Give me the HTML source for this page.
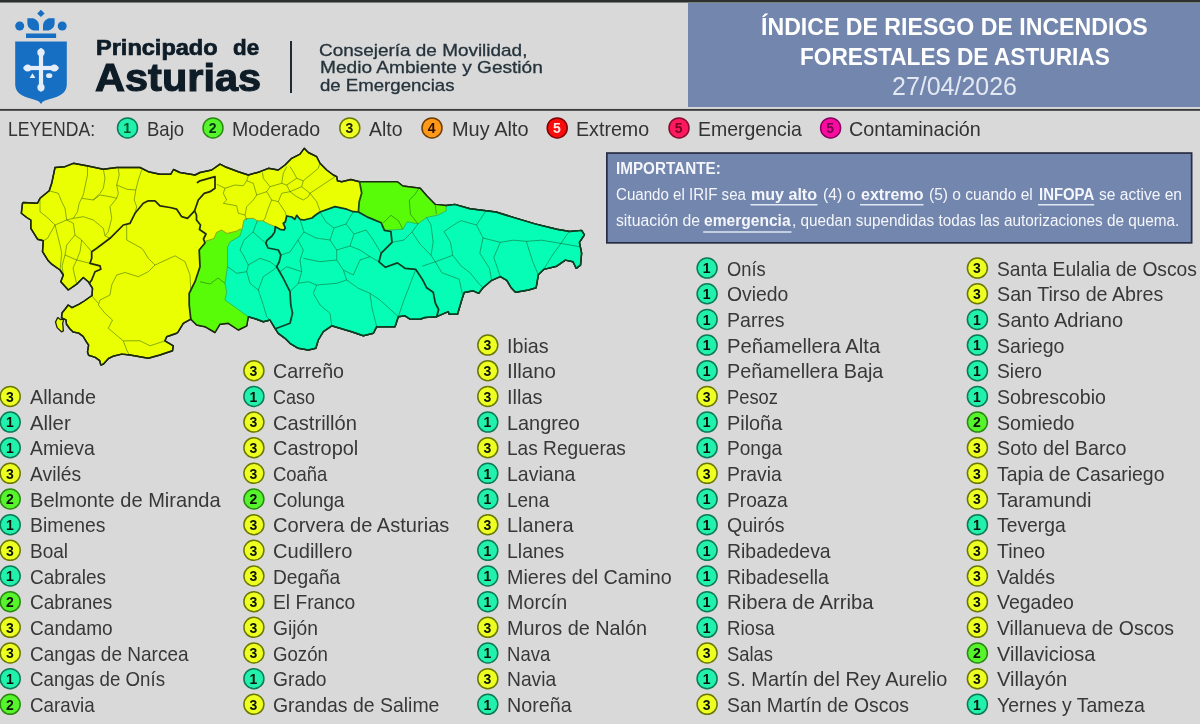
<!DOCTYPE html>
<html lang="es"><head><meta charset="utf-8"><title>IRIF Asturias</title>
<style>
html,body{margin:0;padding:0}
body{width:1200px;height:724px;position:relative;overflow:hidden;background:#d9d9d9;font-family:"Liberation Sans",sans-serif}
.t{position:absolute;white-space:nowrap;line-height:1;transform-origin:0 0}
.bar{position:absolute;left:0;top:0;width:1200px;height:3px;background:linear-gradient(#2c302e 0,#2c302e 2px,#7e807f 2px,#7e807f 3px)}
.hr{position:absolute;left:0;top:108px;width:1200px;height:3px;background:linear-gradient(#cfcfcf 0,#cfcfcf 1px,#3c3c3c 1px,#3c3c3c 2px,#585858 2px,#585858 3px)}
.vr{position:absolute;left:290px;top:41px;width:2.4px;height:51.5px;background:#1d2a33}
.title{position:absolute;left:688px;top:2.5px;width:512px;height:104.3px;background:#7386ae}
</style></head><body><div id="wrap" style="position:absolute;left:0;top:0;width:1200px;height:724px;will-change:transform">
<div class="bar"></div>
<div class="title"></div>
<div class="hr"></div>
<div class="vr"></div>
<svg width="1200" height="260" style="position:absolute;left:0;top:0"><rect x="606.85" y="153.05" width="584.8" height="89.8" fill="#7386ae" stroke="#272d42" stroke-width="1.7"/></svg>
<svg class="map" width="600" height="380" viewBox="0 0 600 380" style="position:absolute;left:0;top:0">
<path d="M22.5 203.3 L23.3 202.5 L37.5 203.3 L40.0 198.3 L49.2 190.8 L51.7 183.3 L55.0 167.5 L65.0 166.7 L73.3 163.3 L86.7 165.8 L103.3 169.2 L116.7 167.5 L140.0 167.5 L148.3 171.7 L160.0 174.2 L170.8 174.2 L173.5 169.5 L180.0 172.5 L195.0 175.0 L200.0 172.5 L211.7 170.0 L220.0 164.2 L225.0 166.7 L231.7 169.2 L238.3 171.7 L248.3 175.0 L260.0 171.7 L268.3 168.3 L278.3 170.0 L285.0 165.0 L291.7 158.3 L300.0 154.2 L304.2 148.3 L308.3 152.5 L316.7 156.7 L320.0 163.3 L326.7 170.0 L333.3 175.0 L336.7 176.7 L337.5 180.8 L341.7 181.7 L350.8 179.5 L359.5 181.7 L372.5 181.7 L397.4 181.7 L402.8 186.0 L420.2 188.2 L426.7 195.8 L435.3 204.4 L446.2 205.5 L454.8 204.4 L470.0 208.8 L496.0 212.0 L513.3 217.4 L535.0 223.9 L556.7 229.3 L569.7 231.5 L581.6 230.4 L584.4 234.8 L579.4 242.3 L581.6 253.2 L580.5 265.1 L576.2 268.3 L573.0 261.8 L565.3 260.1 L556.7 266.2 L543.7 269.4 L538.3 274.8 L536.1 287.8 L528.5 290.0 L515.5 292.2 L511.2 287.8 L506.8 280.3 L500.3 276.6 L491.7 280.3 L483.0 287.8 L478.7 293.3 L473.3 290.8 L464.2 292.5 L461.7 300.0 L457.5 314.2 L449.2 314.2 L448.3 311.7 L436.7 316.7 L425.0 317.5 L420.0 319.2 L410.0 319.2 L405.0 315.8 L398.3 316.7 L395.0 326.7 L376.7 326.7 L373.3 333.3 L363.3 335.8 L351.7 331.7 L343.3 329.2 L331.7 325.8 L323.3 331.7 L318.3 340.0 L315.8 348.3 L308.3 350.0 L298.3 348.3 L290.0 343.3 L285.0 338.3 L278.3 333.3 L275.0 328.3 L270.0 320.0 L263.3 321.7 L256.7 319.2 L248.3 316.7 L246.7 325.8 L238.3 330.0 L228.3 323.3 L220.0 324.2 L215.0 332.5 L205.0 326.7 L196.7 325.0 L190.8 319.2 L183.3 323.3 L178.3 331.7 L176.7 333.3 L166.7 336.7 L165.0 340.8 L173.3 345.8 L172.5 350.8 L160.0 355.0 L148.3 358.3 L130.0 355.0 L121.8 354.1 L112.9 356.3 L108.5 358.5 L103.5 364.0 L100.8 365.1 L99.7 360.7 L95.2 357.4 L88.6 355.2 L87.5 351.9 L88.6 345.2 L86.4 341.9 L83.1 336.4 L78.7 333.1 L73.1 332.0 L69.8 328.7 L66.5 324.3 L66.0 319.8 L63.2 318.7 L61.5 317.6 L62.1 312.7 L65.4 308.8 L68.2 305.0 L72.0 307.7 L78.7 304.4 L84.2 301.0 L92.0 295.5 L92.5 288.3 L88.3 281.7 L83.3 277.5 L76.7 284.2 L68.3 290.0 L60.8 281.7 L63.3 275.0 L60.0 270.0 L51.7 264.2 L48.3 260.8 L42.5 251.7 L43.3 240.8 L37.5 239.2 L30.8 228.3 L30.8 220.0 L26.7 217.5 L21.3 213.3 Z" fill="#e9ff02" stroke="#20260a" stroke-width="1.45" stroke-linejoin="round"/>
<path d="M57.7 317.6 L55.5 322.0 L57.1 327.6 L61.5 331.8 L63.4 330.9 L62.7 323.1 L63.8 319.0 L60.4 319.6 Z" fill="#e9ff02" stroke="#20260a" stroke-width="1.3" stroke-linejoin="round"/>
<path d="M242.0 229.5 L244.0 220.0 L246.7 218.5 L253.3 218.3 L257.3 220.7 L263.3 221.0 L268.7 224.0 L275.3 226.7 L280.0 229.3 L284.0 230.0 L285.3 228.0 L283.3 223.3 L285.3 222.0 L286.7 216.0 L292.0 217.0 L294.7 219.3 L296.7 215.3 L300.0 219.3 L304.0 220.0 L312.0 218.0 L315.3 215.3 L320.0 212.0 L335.0 206.7 L346.7 209.2 L353.3 211.7 L358.4 212.0 L368.2 217.4 L381.2 222.8 L384.4 230.4 L402.8 229.3 L407.2 221.8 L418.0 223.9 L426.7 217.4 L437.5 215.3 L446.2 210.9 L446.2 205.5 L454.8 204.4 L470.0 208.8 L496.0 212.0 L513.3 217.4 L535.0 223.9 L556.7 229.3 L569.7 231.5 L581.6 230.4 L584.4 234.8 L579.4 242.3 L581.6 253.2 L580.5 265.1 L576.2 268.3 L573.0 261.8 L565.3 260.1 L556.7 266.2 L543.7 269.4 L538.3 274.8 L536.1 287.8 L528.5 290.0 L515.5 292.2 L511.2 287.8 L506.8 280.3 L500.3 276.6 L491.7 280.3 L483.0 287.8 L478.7 293.3 L473.3 290.8 L464.2 292.5 L461.7 300.0 L457.5 314.2 L449.2 314.2 L448.3 311.7 L436.7 316.7 L425.0 317.5 L420.0 319.2 L410.0 319.2 L405.0 315.8 L398.3 316.7 L395.0 326.7 L376.7 326.7 L373.3 333.3 L363.3 335.8 L351.7 331.7 L343.3 329.2 L331.7 325.8 L323.3 331.7 L318.3 340.0 L315.8 348.3 L308.3 350.0 L298.3 348.3 L290.0 343.3 L285.0 338.3 L278.3 333.3 L275.0 328.3 L270.0 320.0 L263.3 321.7 L256.7 319.2 L248.3 316.7 L236.7 308.3 L225.0 300.0 L226.7 291.7 L225.0 283.3 L227.5 266.7 L227.5 247.0 L230.0 242.0 L240.0 236.0 L242.0 229.5 Z" fill="#05fdb6"/>
<path d="M204.5 241.5 L214.0 238.5 L216.5 232.5 L221.5 230.0 L227.0 233.5 L237.0 231.0 L240.0 229.0 L242.0 229.5 L240.0 236.0 L230.0 242.0 L227.5 247.0 L227.5 266.7 L225.0 283.3 L226.7 291.7 L225.0 300.0 L236.7 308.3 L248.3 316.7 L246.7 325.8 L238.3 330.0 L228.3 323.3 L220.0 324.2 L215.0 332.5 L205.0 326.7 L196.7 325.0 L190.8 319.2 L189.2 305.0 L189.2 293.3 L195.0 281.7 L200.0 266.7 L199.2 250.0 L205.0 243.0 Z" fill="#58fb08"/>
<path d="M359.5 181.7 L372.5 181.7 L397.4 181.7 L402.8 186.0 L420.2 188.2 L426.7 195.8 L435.3 204.4 L446.2 205.5 L446.2 210.9 L437.5 215.3 L426.7 217.4 L418.0 223.9 L407.2 221.8 L402.8 229.3 L384.4 230.4 L381.2 222.8 L368.2 217.4 L358.4 212.0 L359.2 201.7 L361.7 193.0 Z" fill="#58fb08"/>
<path d="M248.3 316.7 L236.7 308.3 L225.0 300.0 L226.7 291.7 L225.0 283.3 L227.5 266.7 L227.5 247.0 L230.0 242.0 L240.0 236.0 L242.0 229.5" fill="none" stroke="#1fb868" stroke-width="0.9"/>
<path d="M358.4 212.0 L368.2 217.4 L381.2 222.8 L384.4 230.4 L402.8 229.3 L407.2 221.8 L418.0 223.9 L426.7 217.4 L437.5 215.3 L446.2 210.9 L446.2 205.5" fill="none" stroke="#1fb868" stroke-width="0.9"/>
<path d="M242.0 229.5 L244.0 220.0 L246.7 218.5 L253.3 218.3 L257.3 220.7 L263.3 221.0 L268.7 224.0 L275.3 226.7" fill="none" stroke="#8aa818" stroke-width="1"/>
<path d="M204.5 241.5 L214.0 238.5 L216.5 232.5 L221.5 230.0 L227.0 233.5 L237.0 231.0 L240.0 229.0 L242.0 229.5" fill="none" stroke="#8aa818" stroke-width="1"/>
<path d="M87.5 166.0 L87.5 175.0 L85.0 186.7 L83.3 195.0 L81.7 198.3 L79.2 203.3 L77.5 211.7 L73.3 218.3 L66.7 220.0 M103.3 169.0 L105.0 178.3 L103.3 188.3 L100.0 193.3 L93.3 200.0 L81.7 198.3 M118.3 168.3 L119.2 175.0 L116.7 185.0 L118.3 193.3 L116.7 198.3 L110.0 206.7 L111.7 218.3 L108.3 231.7 L105.0 235.8 L110.0 238.3 M141.7 170.0 L138.3 180.0 L135.8 190.0 L134.2 200.0 L136.7 206.7 L135.0 213.3 M116.7 185.0 L126.7 189.2 L135.8 190.0 M93.3 200.0 L100.0 195.0 L110.0 196.7 L116.7 198.3 M49.2 190.8 L58.3 193.3 L61.7 201.7 L65.0 208.3 L66.7 220.0 M66.7 220.0 L55.0 225.0 L47.5 238.3 L43.3 240.8 M66.7 220.0 L73.3 223.3 L75.0 235.0 L81.7 240.0 L91.7 251.7 M40.0 198.3 L40.0 211.7 L48.3 218.3 L55.0 225.0 M73.3 218.3 L83.3 216.7 L93.3 220.0 L103.3 228.3 L105.0 235.8 M55.0 225.0 L60.0 245.0 L61.7 253.3 L60.0 270.0 M75.0 235.0 L66.7 245.0 L65.0 255.0 L62.0 266.0 L63.3 275.0 M81.7 240.0 L80.0 251.7 L76.7 260.0 L73.0 268.0 L76.7 284.2 M65.0 255.0 L76.7 260.0 L90.0 263.3 M143.3 250.0 L148.3 258.3 L155.0 265.0 L175.0 255.8 L185.0 261.7 L190.0 275.0 L190.8 291.7 M155.0 265.0 L148.3 271.7 L138.3 276.7 L125.0 272.5 L116.7 275.0 L111.7 285.0 L110.0 295.0 L100.0 300.0 L98.3 305.0 L105.0 313.3 L112.5 320.0 L108.3 328.3 L118.3 336.7 L123.3 340.8 L126.7 350.0 L129.2 355.0 M91.7 295.8 L98.3 303.3 M123.3 340.8 L140.0 340.8 L150.0 345.8 L160.0 342.5 L165.0 340.8 M126.7 225.0 L126.7 240.0 L141.7 248.3 L143.3 250.0 M216.7 184.2 L225.0 188.3 L223.3 193.3 L226.7 200.0 L223.3 203.3 L236.7 205.8 L238.3 213.3 L245.0 215.0 L246.7 220.0 M225.0 188.3 L235.0 185.0 L243.3 185.8 L246.7 180.8 L248.3 175.8 M246.7 180.8 L253.3 183.3 L256.7 195.0 L266.7 191.7 L270.0 186.7 L263.3 178.3 L262.5 172.5 M256.7 195.0 L253.3 200.0 L246.7 206.7 L245.0 215.0 M266.7 191.7 L271.7 200.0 L268.3 208.3 L265.0 218.3 L263.3 220.8 M271.7 200.0 L278.3 201.7 L285.0 211.7 L286.7 216.7 M278.3 201.7 L281.7 193.3 L290.0 191.7 L286.7 185.0 L281.7 183.3 L283.3 173.3 L286.7 166.7 M270.0 186.7 L281.7 183.3 M286.7 185.0 L296.7 178.3 L293.3 171.7 L290.0 166.7 M296.7 178.3 L303.3 180.8 L318.3 168.3 L320.0 163.3 M303.3 180.8 L301.7 186.7 L310.0 193.3 L330.0 180.0 L335.0 176.7 M290.0 191.7 L301.7 186.7 M310.0 193.3 L316.7 201.7 L320.0 210.8 M290.0 191.7 L296.7 196.7 L303.3 200.0 L308.3 196.7 L310.0 193.3 M227.5 266.7 L236.7 273.3 L246.7 271.7 L248.3 265.0 L243.3 255.0 L240.0 250.0 L244.0 240.0 L253.0 232.0 L257.3 220.7 M246.7 271.7 L250.0 283.3 L258.3 290.0 L263.3 305.0 L266.7 316.7 L270.0 320.0 M258.3 290.0 L263.3 276.7 L273.3 270.0 L276.7 266.7 M248.3 265.0 L260.0 258.3 L270.0 261.7 L276.7 266.7 M253.0 232.0 L262.0 240.0 L266.0 243.3 M290.0 291.7 L298.3 283.3 L308.3 281.7 L316.7 285.0 L336.7 283.3 L346.7 280.0 L358.3 288.3 L370.0 293.3 L380.0 300.0 L398.3 316.7 M316.7 285.0 L313.3 293.3 L320.0 305.0 L330.0 313.3 L331.7 325.8 M298.3 283.3 L301.7 271.7 L300.0 260.0 L303.3 250.0 L298.0 240.0 L304.0 232.0 L300.0 219.3 M301.7 271.7 L286.7 266.7 L280.0 271.7 M346.7 280.0 L343.3 270.0 L336.7 260.0 L336.7 250.0 L330.0 240.0 L334.0 228.0 L326.0 222.0 L320.0 212.0 M343.3 270.0 L353.3 275.0 L360.0 260.0 L370.0 256.7 L379.0 261.8 M303.3 258.3 L320.0 261.7 L336.7 260.0 M304.0 232.0 L316.0 238.0 L330.0 240.0 M336.7 250.0 L350.0 246.0 L360.0 250.0 L370.0 256.7 M350.0 246.0 L354.0 234.0 L366.0 230.0 L372.0 238.0 L381.2 253.2 M334.0 228.0 L346.0 224.0 L353.3 211.7 M354.0 234.0 L346.0 224.0 M280.8 255.0 L290.0 252.0 L298.0 240.0 M370.0 293.3 L372.0 308.0 L376.7 326.7 M398.3 316.7 L404.0 300.0 L415.8 269.4 M426.7 217.4 L431.0 225.0 L433.2 242.3 L431.0 255.3 L435.3 261.8 L422.3 266.2 M435.3 261.8 L452.7 255.3 L461.3 266.2 L470.0 272.7 L478.7 283.5 L483.0 287.8 M452.7 255.3 L450.5 242.3 L444.0 231.5 L457.0 222.8 L461.3 220.7 L476.5 225.0 L485.2 212.0 M476.5 225.0 L483.0 238.0 L500.3 242.3 L513.3 240.2 L526.3 241.3 L541.5 240.2 L561.0 243.4 L567.5 233.7 L569.7 231.5 M483.0 238.0 L479.8 253.2 L489.5 268.3 L491.7 280.3 M500.3 242.3 L493.8 257.5 L500.3 276.6 M526.3 241.3 L532.8 261.8 L538.3 274.8 M561.0 243.4 L552.3 255.3 L543.7 269.4 M561.0 243.4 L579.4 246.7 M435.3 261.8 L441.8 272.7 L459.2 279.2 L462.4 294.3 M392.0 242.3 L404.0 240.0 L412.0 232.0 L418.0 223.9 M412.0 232.0 L420.0 244.0 L431.0 255.3 M419.0 188.2 L414.8 194.7 L409.3 200.0 L410.4 214.2 L418.0 223.9 M435.3 204.4 L436.4 214.2 M383.3 222.8 L390.9 215.3 L398.5 220.7 L402.8 229.3 M200.0 281.7 L210.0 284.0 L218.0 278.0 L225.0 283.3" fill="none" stroke="rgba(20,70,20,0.5)" stroke-width="0.9" stroke-linejoin="round"/>
<path d="M22.5 203.3 L23.3 202.5 L37.5 203.3 L40.0 198.3 L49.2 190.8 L51.7 183.3 L55.0 167.5 L65.0 166.7 L73.3 163.3 L86.7 165.8 L103.3 169.2 L116.7 167.5 L140.0 167.5 L148.3 171.7 L160.0 174.2 L170.8 174.2 L173.5 169.5 L180.0 172.5 L195.0 175.0 L200.0 172.5 L211.7 170.0 L220.0 164.2 L225.0 166.7 L231.7 169.2 L238.3 171.7 L248.3 175.0 L260.0 171.7 L268.3 168.3 L278.3 170.0 L285.0 165.0 L291.7 158.3 L300.0 154.2 L304.2 148.3 L308.3 152.5 L316.7 156.7 L320.0 163.3 L326.7 170.0 L333.3 175.0 L336.7 176.7 L337.5 180.8 L341.7 181.7 L350.8 179.5 L359.5 181.7 L372.5 181.7 L397.4 181.7 L402.8 186.0 L420.2 188.2 L426.7 195.8 L435.3 204.4 L446.2 205.5 L454.8 204.4 L470.0 208.8 L496.0 212.0 L513.3 217.4 L535.0 223.9 L556.7 229.3 L569.7 231.5 L581.6 230.4 L584.4 234.8 L579.4 242.3 L581.6 253.2 L580.5 265.1 L576.2 268.3 L573.0 261.8 L565.3 260.1 L556.7 266.2 L543.7 269.4 L538.3 274.8 L536.1 287.8 L528.5 290.0 L515.5 292.2 L511.2 287.8 L506.8 280.3 L500.3 276.6 L491.7 280.3 L483.0 287.8 L478.7 293.3 L473.3 290.8 L464.2 292.5 L461.7 300.0 L457.5 314.2 L449.2 314.2 L448.3 311.7 L436.7 316.7 L425.0 317.5 L420.0 319.2 L410.0 319.2 L405.0 315.8 L398.3 316.7 L395.0 326.7 L376.7 326.7 L373.3 333.3 L363.3 335.8 L351.7 331.7 L343.3 329.2 L331.7 325.8 L323.3 331.7 L318.3 340.0 L315.8 348.3 L308.3 350.0 L298.3 348.3 L290.0 343.3 L285.0 338.3 L278.3 333.3 L275.0 328.3 L270.0 320.0 L263.3 321.7 L256.7 319.2 L248.3 316.7 L246.7 325.8 L238.3 330.0 L228.3 323.3 L220.0 324.2 L215.0 332.5 L205.0 326.7 L196.7 325.0 L190.8 319.2 L183.3 323.3 L178.3 331.7 L176.7 333.3 L166.7 336.7 L165.0 340.8 L173.3 345.8 L172.5 350.8 L160.0 355.0 L148.3 358.3 L130.0 355.0 L121.8 354.1 L112.9 356.3 L108.5 358.5 L103.5 364.0 L100.8 365.1 L99.7 360.7 L95.2 357.4 L88.6 355.2 L87.5 351.9 L88.6 345.2 L86.4 341.9 L83.1 336.4 L78.7 333.1 L73.1 332.0 L69.8 328.7 L66.5 324.3 L66.0 319.8 L63.2 318.7 L61.5 317.6 L62.1 312.7 L65.4 308.8 L68.2 305.0 L72.0 307.7 L78.7 304.4 L84.2 301.0 L92.0 295.5 L92.5 288.3 L88.3 281.7 L83.3 277.5 L76.7 284.2 L68.3 290.0 L60.8 281.7 L63.3 275.0 L60.0 270.0 L51.7 264.2 L48.3 260.8 L42.5 251.7 L43.3 240.8 L37.5 239.2 L30.8 228.3 L30.8 220.0 L26.7 217.5 L21.3 213.3 Z" fill="none" stroke="#1c2a10" stroke-width="1.45" stroke-linejoin="round"/>
<path d="M446.2 205.5 L454.8 204.4 L470.0 208.8 L496.0 212.0 L513.3 217.4 L535.0 223.9 L556.7 229.3 L569.7 231.5 L581.6 230.4 L584.4 234.8 L579.4 242.3 L581.6 253.2 L580.5 265.1 L576.2 268.3 L573.0 261.8 L565.3 260.1 L556.7 266.2 L543.7 269.4 L538.3 274.8 L536.1 287.8 L528.5 290.0 L515.5 292.2 L511.2 287.8 L506.8 280.3 L500.3 276.6 L491.7 280.3 L483.0 287.8 L478.7 293.3 L473.3 290.8 L464.2 292.5 L461.7 300.0 L457.5 314.2 L449.2 314.2 L448.3 311.7 L436.7 316.7 L425.0 317.5 L420.0 319.2 L410.0 319.2 L405.0 315.8 L398.3 316.7 L395.0 326.7 L376.7 326.7 L373.3 333.3 L363.3 335.8 L351.7 331.7 L343.3 329.2 L331.7 325.8 L323.3 331.7 L318.3 340.0 L315.8 348.3 L308.3 350.0 L298.3 348.3 L290.0 343.3 L285.0 338.3 L278.3 333.3 L275.0 328.3 L270.0 320.0 L263.3 321.7 L256.7 319.2 L248.3 316.7" fill="none" stroke="#0d4228" stroke-width="1.45" stroke-linejoin="round"/>
<path d="M89.5 283.0 L91.7 280.0 L95.0 271.7 L100.8 269.2 L100.0 265.8 L90.0 263.3 L91.7 258.3 L91.7 251.7 L96.7 248.3 L110.0 238.3 L123.3 225.0 L130.0 223.3 L135.0 213.3 L143.3 203.3 L148.3 200.8 L155.0 200.8 L160.0 205.8 L170.0 207.5 L176.7 209.2 L181.7 216.7 L187.5 218.3 L194.6 210.8 L198.3 200.0 L204.2 193.3 L210.0 191.7 L215.0 188.3 L215.0 176.7 L200.0 180.8 L197.5 182.5" fill="none" stroke="#22280c" stroke-width="1.75" stroke-linejoin="round" stroke-linecap="round"/>
<path d="M194.6 210.8 L196.5 215.0 L196.5 220.0 L200.5 225.0 L199.5 229.5 L206.0 234.0 L203.5 239.0 L205.0 243.0 L199.2 250.0 L200.0 266.7 L195.0 281.7 L189.2 293.3 L189.2 305.0 L190.8 319.2" fill="none" stroke="#1c3010" stroke-width="1.75" stroke-linejoin="round" stroke-linecap="round"/>
<path d="M266.0 243.3 L266.7 240.7 L272.0 236.0 L274.7 232.0 L275.3 226.7 L280.0 229.3 L284.0 230.0 L285.3 228.0 L283.3 223.3 L285.3 222.0 L286.7 216.0 L292.0 217.0 L294.7 219.3 L296.7 215.3 L300.0 219.3 L304.0 220.0 L312.0 218.0 L315.3 215.3 L320.0 212.0 L335.0 206.7 L346.7 209.2 L353.3 211.7 L358.4 212.0 L368.2 217.4 L381.2 222.8 L384.4 230.4 L390.9 231.5 L392.0 242.3 L381.2 253.2 L379.0 261.8 L385.5 267.3 L397.4 262.9 L405.0 268.3 L415.8 269.4 L422.3 279.2 L426.7 287.8 L433.2 292.2 L435.3 303.0 L438.6 309.5 L436.7 316.7" fill="none" stroke="#0e3a20" stroke-width="1.75" stroke-linejoin="round" stroke-linecap="round"/>
<path d="M266.0 243.3 L268.0 248.0 L278.3 250.0 L280.8 255.0 L279.2 262.0 L276.7 266.7 L283.3 278.3 L290.0 291.7 L290.8 305.0 L292.5 313.3 L290.0 323.3 L276.7 328.3" fill="none" stroke="#0d4228" stroke-width="1.75" stroke-linejoin="round" stroke-linecap="round"/>
<path d="M359.5 181.7 L361.7 193.0 L359.2 201.7 L358.4 212.0" fill="none" stroke="#1a4a14" stroke-width="1.75" stroke-linejoin="round" stroke-linecap="round"/>
</svg>
<svg width="90" height="110" viewBox="0 0 90 110" style="position:absolute;left:0;top:0">
<g fill="#166fc2">
<path d="M15.2 41.5 H66.8 V84 C66.8 91 62.5 94.5 57 96.8 C52 98.8 47 99.6 44.5 100.8 C43 101.600 41.8 102.600 41 103.900 C40.200 102.600 39 101.600 37.5 100.800 C35 99.600 30 98.800 25 96.800 C19.500 94.500 15.200 91 15.200 84 Z"/>
<rect x="26" y="33.5" width="30.1" height="4.5"/>
<circle cx="19.7" cy="26" r="4.500"/>
<circle cx="62.2" cy="26" r="4.500"/>
<path d="M27.4 18.3 H33 C37 19.500 39 22.500 39 26 V30.4 H33.500 C29.500 29.500 27.400 26.500 27.400 23 Z"/>
<path d="M54.6 18.3 H49 C45 19.500 43 22.500 43 26 V30.4 H48.500 C52.500 29.500 54.600 26.500 54.600 23 Z"/>
<path d="M40.9 9.700 L44.6 13.4 L40.900 17.100 L37.200 13.400 Z"/>
</g>
<g fill="#e4edf8">
<rect x="38.900" y="50" width="4.200" height="40"/>
<rect x="25" y="65.900" width="32" height="4.200"/>
<circle cx="41" cy="52.400" r="3.700"/><circle cx="41" cy="87.400" r="3.600"/>
<circle cx="27.700" cy="68" r="3.600"/><circle cx="54.300" cy="68" r="3.600"/>
<circle cx="41" cy="49.600" r="1.700"/><circle cx="41" cy="90" r="1.700"/>
<circle cx="24.900" cy="68" r="1.700"/><circle cx="57.100" cy="68" r="1.700"/>
<path d="M29.600 78.100 L32.500 73.200 L35.400 78.100 Z"/>
<ellipse cx="49.200" cy="75.700" rx="3.100" ry="2.400"/>
</g></svg>
<svg width="1200" height="724" style="position:absolute;left:0;top:0">
<circle cx="127.50" cy="127.90" r="10" fill="#21f1ad" stroke="#0b7a55" stroke-width="1.5"/>
<circle cx="213.00" cy="127.90" r="10" fill="#56f42c" stroke="#2a8a10" stroke-width="1.5"/>
<circle cx="349.80" cy="127.90" r="10" fill="#eeff22" stroke="#6a7800" stroke-width="1.5"/>
<circle cx="432.00" cy="127.90" r="10" fill="#ff9918" stroke="#6e3c00" stroke-width="1.5"/>
<circle cx="557.20" cy="127.90" r="10" fill="#fa0c0c" stroke="#7e0000" stroke-width="1.5"/>
<circle cx="679.00" cy="127.90" r="10" fill="#fc1a5c" stroke="#860a30" stroke-width="1.5"/>
<circle cx="830.60" cy="127.90" r="10" fill="#fb0ca0" stroke="#86005e" stroke-width="1.5"/>
<line x1="750.5" y1="204.8" x2="817.5" y2="204.8" stroke="#dfe6f4" stroke-width="1.6"/>
<line x1="860.0" y1="204.8" x2="923.5" y2="204.8" stroke="#dfe6f4" stroke-width="1.6"/>
<line x1="1038.0" y1="204.8" x2="1094.2" y2="204.8" stroke="#dfe6f4" stroke-width="1.6"/>
<line x1="703.2" y1="232.0" x2="791.5" y2="232.0" stroke="#dfe6f4" stroke-width="1.6"/>
<circle cx="10.20" cy="396.38" r="10" fill="#eeff22" stroke="#6a7800" stroke-width="1.5"/>
<circle cx="10.20" cy="422.04" r="10" fill="#21f1ad" stroke="#0b7a55" stroke-width="1.5"/>
<circle cx="10.20" cy="447.70" r="10" fill="#21f1ad" stroke="#0b7a55" stroke-width="1.5"/>
<circle cx="10.20" cy="473.36" r="10" fill="#eeff22" stroke="#6a7800" stroke-width="1.5"/>
<circle cx="10.20" cy="499.02" r="10" fill="#56f42c" stroke="#2a8a10" stroke-width="1.5"/>
<circle cx="10.20" cy="524.68" r="10" fill="#21f1ad" stroke="#0b7a55" stroke-width="1.5"/>
<circle cx="10.20" cy="550.34" r="10" fill="#eeff22" stroke="#6a7800" stroke-width="1.5"/>
<circle cx="10.20" cy="576.00" r="10" fill="#21f1ad" stroke="#0b7a55" stroke-width="1.5"/>
<circle cx="10.20" cy="601.66" r="10" fill="#56f42c" stroke="#2a8a10" stroke-width="1.5"/>
<circle cx="10.20" cy="627.32" r="10" fill="#eeff22" stroke="#6a7800" stroke-width="1.5"/>
<circle cx="10.20" cy="652.98" r="10" fill="#eeff22" stroke="#6a7800" stroke-width="1.5"/>
<circle cx="10.20" cy="678.64" r="10" fill="#21f1ad" stroke="#0b7a55" stroke-width="1.5"/>
<circle cx="10.20" cy="704.30" r="10" fill="#56f42c" stroke="#2a8a10" stroke-width="1.5"/>
<circle cx="253.90" cy="370.72" r="10" fill="#eeff22" stroke="#6a7800" stroke-width="1.5"/>
<circle cx="253.90" cy="396.38" r="10" fill="#21f1ad" stroke="#0b7a55" stroke-width="1.5"/>
<circle cx="253.90" cy="422.04" r="10" fill="#eeff22" stroke="#6a7800" stroke-width="1.5"/>
<circle cx="253.90" cy="447.70" r="10" fill="#eeff22" stroke="#6a7800" stroke-width="1.5"/>
<circle cx="253.90" cy="473.36" r="10" fill="#eeff22" stroke="#6a7800" stroke-width="1.5"/>
<circle cx="253.90" cy="499.02" r="10" fill="#56f42c" stroke="#2a8a10" stroke-width="1.5"/>
<circle cx="253.90" cy="524.68" r="10" fill="#eeff22" stroke="#6a7800" stroke-width="1.5"/>
<circle cx="253.90" cy="550.34" r="10" fill="#eeff22" stroke="#6a7800" stroke-width="1.5"/>
<circle cx="253.90" cy="576.00" r="10" fill="#eeff22" stroke="#6a7800" stroke-width="1.5"/>
<circle cx="253.90" cy="601.66" r="10" fill="#eeff22" stroke="#6a7800" stroke-width="1.5"/>
<circle cx="253.90" cy="627.32" r="10" fill="#eeff22" stroke="#6a7800" stroke-width="1.5"/>
<circle cx="253.90" cy="652.98" r="10" fill="#eeff22" stroke="#6a7800" stroke-width="1.5"/>
<circle cx="253.90" cy="678.64" r="10" fill="#21f1ad" stroke="#0b7a55" stroke-width="1.5"/>
<circle cx="253.90" cy="704.30" r="10" fill="#eeff22" stroke="#6a7800" stroke-width="1.5"/>
<circle cx="487.80" cy="345.06" r="10" fill="#eeff22" stroke="#6a7800" stroke-width="1.5"/>
<circle cx="487.80" cy="370.72" r="10" fill="#eeff22" stroke="#6a7800" stroke-width="1.5"/>
<circle cx="487.80" cy="396.38" r="10" fill="#eeff22" stroke="#6a7800" stroke-width="1.5"/>
<circle cx="487.80" cy="422.04" r="10" fill="#21f1ad" stroke="#0b7a55" stroke-width="1.5"/>
<circle cx="487.80" cy="447.70" r="10" fill="#eeff22" stroke="#6a7800" stroke-width="1.5"/>
<circle cx="487.80" cy="473.36" r="10" fill="#21f1ad" stroke="#0b7a55" stroke-width="1.5"/>
<circle cx="487.80" cy="499.02" r="10" fill="#21f1ad" stroke="#0b7a55" stroke-width="1.5"/>
<circle cx="487.80" cy="524.68" r="10" fill="#eeff22" stroke="#6a7800" stroke-width="1.5"/>
<circle cx="487.80" cy="550.34" r="10" fill="#21f1ad" stroke="#0b7a55" stroke-width="1.5"/>
<circle cx="487.80" cy="576.00" r="10" fill="#21f1ad" stroke="#0b7a55" stroke-width="1.5"/>
<circle cx="487.80" cy="601.66" r="10" fill="#21f1ad" stroke="#0b7a55" stroke-width="1.5"/>
<circle cx="487.80" cy="627.32" r="10" fill="#eeff22" stroke="#6a7800" stroke-width="1.5"/>
<circle cx="487.80" cy="652.98" r="10" fill="#21f1ad" stroke="#0b7a55" stroke-width="1.5"/>
<circle cx="487.80" cy="678.64" r="10" fill="#eeff22" stroke="#6a7800" stroke-width="1.5"/>
<circle cx="487.80" cy="704.30" r="10" fill="#21f1ad" stroke="#0b7a55" stroke-width="1.5"/>
<circle cx="707.10" cy="268.08" r="10" fill="#21f1ad" stroke="#0b7a55" stroke-width="1.5"/>
<circle cx="707.10" cy="293.74" r="10" fill="#21f1ad" stroke="#0b7a55" stroke-width="1.5"/>
<circle cx="707.10" cy="319.40" r="10" fill="#21f1ad" stroke="#0b7a55" stroke-width="1.5"/>
<circle cx="707.10" cy="345.06" r="10" fill="#21f1ad" stroke="#0b7a55" stroke-width="1.5"/>
<circle cx="707.10" cy="370.72" r="10" fill="#21f1ad" stroke="#0b7a55" stroke-width="1.5"/>
<circle cx="707.10" cy="396.38" r="10" fill="#eeff22" stroke="#6a7800" stroke-width="1.5"/>
<circle cx="707.10" cy="422.04" r="10" fill="#21f1ad" stroke="#0b7a55" stroke-width="1.5"/>
<circle cx="707.10" cy="447.70" r="10" fill="#21f1ad" stroke="#0b7a55" stroke-width="1.5"/>
<circle cx="707.10" cy="473.36" r="10" fill="#eeff22" stroke="#6a7800" stroke-width="1.5"/>
<circle cx="707.10" cy="499.02" r="10" fill="#21f1ad" stroke="#0b7a55" stroke-width="1.5"/>
<circle cx="707.10" cy="524.68" r="10" fill="#21f1ad" stroke="#0b7a55" stroke-width="1.5"/>
<circle cx="707.10" cy="550.34" r="10" fill="#21f1ad" stroke="#0b7a55" stroke-width="1.5"/>
<circle cx="707.10" cy="576.00" r="10" fill="#21f1ad" stroke="#0b7a55" stroke-width="1.5"/>
<circle cx="707.10" cy="601.66" r="10" fill="#21f1ad" stroke="#0b7a55" stroke-width="1.5"/>
<circle cx="707.10" cy="627.32" r="10" fill="#21f1ad" stroke="#0b7a55" stroke-width="1.5"/>
<circle cx="707.10" cy="652.98" r="10" fill="#eeff22" stroke="#6a7800" stroke-width="1.5"/>
<circle cx="707.10" cy="678.64" r="10" fill="#21f1ad" stroke="#0b7a55" stroke-width="1.5"/>
<circle cx="707.10" cy="704.30" r="10" fill="#eeff22" stroke="#6a7800" stroke-width="1.5"/>
<circle cx="977.40" cy="268.08" r="10" fill="#eeff22" stroke="#6a7800" stroke-width="1.5"/>
<circle cx="977.40" cy="293.74" r="10" fill="#eeff22" stroke="#6a7800" stroke-width="1.5"/>
<circle cx="977.40" cy="319.40" r="10" fill="#21f1ad" stroke="#0b7a55" stroke-width="1.5"/>
<circle cx="977.40" cy="345.06" r="10" fill="#21f1ad" stroke="#0b7a55" stroke-width="1.5"/>
<circle cx="977.40" cy="370.72" r="10" fill="#21f1ad" stroke="#0b7a55" stroke-width="1.5"/>
<circle cx="977.40" cy="396.38" r="10" fill="#21f1ad" stroke="#0b7a55" stroke-width="1.5"/>
<circle cx="977.40" cy="422.04" r="10" fill="#56f42c" stroke="#2a8a10" stroke-width="1.5"/>
<circle cx="977.40" cy="447.70" r="10" fill="#eeff22" stroke="#6a7800" stroke-width="1.5"/>
<circle cx="977.40" cy="473.36" r="10" fill="#eeff22" stroke="#6a7800" stroke-width="1.5"/>
<circle cx="977.40" cy="499.02" r="10" fill="#eeff22" stroke="#6a7800" stroke-width="1.5"/>
<circle cx="977.40" cy="524.68" r="10" fill="#21f1ad" stroke="#0b7a55" stroke-width="1.5"/>
<circle cx="977.40" cy="550.34" r="10" fill="#eeff22" stroke="#6a7800" stroke-width="1.5"/>
<circle cx="977.40" cy="576.00" r="10" fill="#eeff22" stroke="#6a7800" stroke-width="1.5"/>
<circle cx="977.40" cy="601.66" r="10" fill="#eeff22" stroke="#6a7800" stroke-width="1.5"/>
<circle cx="977.40" cy="627.32" r="10" fill="#eeff22" stroke="#6a7800" stroke-width="1.5"/>
<circle cx="977.40" cy="652.98" r="10" fill="#56f42c" stroke="#2a8a10" stroke-width="1.5"/>
<circle cx="977.40" cy="678.64" r="10" fill="#eeff22" stroke="#6a7800" stroke-width="1.5"/>
<circle cx="977.40" cy="704.30" r="10" fill="#21f1ad" stroke="#0b7a55" stroke-width="1.5"/>
</svg>
<div class="t" style="left:96.30px;top:37.00px;font-size:21.80px;font-weight:700;color:#0e1c27;transform:scaleX(1.0798);-webkit-text-stroke:0.7px #0e1c27">Principado</div>
<div class="t" style="left:233.00px;top:37.00px;font-size:21.80px;font-weight:700;color:#0e1c27;transform:scaleX(1.0237);-webkit-text-stroke:0.7px #0e1c27">de</div>
<div class="t" style="left:94.80px;top:58.00px;font-size:39.60px;font-weight:700;color:#0e1c27;transform:scaleX(1.0492);-webkit-text-stroke:1.1px #0e1c27">Asturias</div>
<div class="t" style="left:319.00px;top:42.00px;font-size:16.40px;color:#26333c;transform:scaleX(1.1552);-webkit-text-stroke:0.3px #26333c">Consejería de Movilidad,</div>
<div class="t" style="left:319.50px;top:59.00px;font-size:16.40px;color:#26333c;transform:scaleX(1.1647);-webkit-text-stroke:0.3px #26333c">Medio Ambiente y Gestión</div>
<div class="t" style="left:319.50px;top:77.00px;font-size:16.40px;color:#26333c;transform:scaleX(1.1351);-webkit-text-stroke:0.3px #26333c">de Emergencias</div>
<div class="t" style="left:761.00px;top:16.00px;font-size:23.20px;font-weight:700;color:#fff;transform:scaleX(0.9974);">ÍNDICE DE RIESGO DE INCENDIOS</div>
<div class="t" style="left:800.00px;top:46.00px;font-size:23.20px;font-weight:700;color:#fff;transform:scaleX(0.9775);">FORESTALES DE ASTURIAS</div>
<div class="t" style="left:892.00px;top:74.00px;font-size:25.00px;color:#e3e8f3;transform:scaleX(0.9990);">27/04/2026</div>
<div class="t" style="left:8.00px;top:118.00px;font-size:21.00px;color:#333;transform:scaleX(0.8378);">LEYENDA:</div>
<div class="t" style="left:123.21px;top:121.00px;font-size:14.00px;font-weight:700;color:#052;transform:scaleX(1.0000);">1</div>
<div class="t" style="left:147.00px;top:118.00px;font-size:21.00px;color:#333;transform:scaleX(0.8810);">Bajo</div>
<div class="t" style="left:208.72px;top:121.00px;font-size:14.00px;font-weight:700;color:#031;transform:scaleX(1.0000);">2</div>
<div class="t" style="left:231.70px;top:118.00px;font-size:21.00px;color:#333;transform:scaleX(0.9334);">Moderado</div>
<div class="t" style="left:345.52px;top:121.00px;font-size:14.00px;font-weight:700;color:#220;transform:scaleX(1.0000);">3</div>
<div class="t" style="left:369.00px;top:118.00px;font-size:21.00px;color:#333;transform:scaleX(0.9248);">Alto</div>
<div class="t" style="left:427.72px;top:121.00px;font-size:14.00px;font-weight:700;color:#2a1000;transform:scaleX(1.0000);">4</div>
<div class="t" style="left:451.50px;top:118.00px;font-size:21.00px;color:#333;transform:scaleX(0.9499);">Muy Alto</div>
<div class="t" style="left:552.92px;top:121.00px;font-size:14.00px;font-weight:700;color:#ffe9e9;transform:scaleX(1.0000);">5</div>
<div class="t" style="left:575.80px;top:118.00px;font-size:21.00px;color:#333;transform:scaleX(0.9358);">Extremo</div>
<div class="t" style="left:674.72px;top:121.00px;font-size:14.00px;font-weight:700;color:#7a0024;transform:scaleX(1.0000);">5</div>
<div class="t" style="left:697.70px;top:118.00px;font-size:21.00px;color:#333;transform:scaleX(0.9274);">Emergencia</div>
<div class="t" style="left:826.32px;top:121.00px;font-size:14.00px;font-weight:700;color:#74004c;transform:scaleX(1.0000);">5</div>
<div class="t" style="left:849.00px;top:118.00px;font-size:21.00px;color:#333;transform:scaleX(0.9410);">Contaminación</div>
<div class="t" style="left:616.00px;top:161.00px;font-size:15.60px;font-weight:700;color:#f4f6fb;transform:scaleX(0.9774);">IMPORTANTE:</div>
<div class="t" style="left:616.00px;top:187.00px;font-size:16.00px;color:#f4f6fb;transform:scaleX(0.9426);">Cuando el IRIF sea</div>
<div class="t" style="left:751.00px;top:187.00px;font-size:16.00px;font-weight:700;color:#f4f6fb;transform:scaleX(1.0036);">muy alto</div>
<div class="t" style="left:822.50px;top:187.00px;font-size:16.00px;color:#f4f6fb;transform:scaleX(0.9884);">(4) o</div>
<div class="t" style="left:860.50px;top:187.00px;font-size:16.00px;font-weight:700;color:#f4f6fb;transform:scaleX(1.0042);">extremo</div>
<div class="t" style="left:928.75px;top:187.00px;font-size:16.00px;color:#f4f6fb;transform:scaleX(0.9722);">(5) o cuando el</div>
<div class="t" style="left:1038.50px;top:187.00px;font-size:16.00px;font-weight:700;color:#f4f6fb;transform:scaleX(0.9320);">INFOPA</div>
<div class="t" style="left:1098.75px;top:187.00px;font-size:16.00px;color:#f4f6fb;transform:scaleX(0.9724);">se active en</div>
<div class="t" style="left:616.00px;top:213.00px;font-size:16.00px;color:#f4f6fb;transform:scaleX(0.9841);">situación de</div>
<div class="t" style="left:703.75px;top:213.00px;font-size:16.00px;font-weight:700;color:#f4f6fb;transform:scaleX(0.9734);">emergencia</div>
<div class="t" style="left:791.50px;top:213.00px;font-size:16.00px;color:#f4f6fb;transform:scaleX(0.9568);">, quedan supendidas todas las autorizaciones de quema.</div>
<div class="t" style="left:29.70px;top:386.00px;font-size:21.00px;color:#383838;transform:scaleX(0.9438);">Allande</div>
<div class="t" style="left:5.91px;top:390.00px;font-size:14.00px;font-weight:700;color:#0c1408;transform:scaleX(1.0000);">3</div>
<div class="t" style="left:29.70px;top:412.00px;font-size:21.00px;color:#383838;transform:scaleX(0.9690);">Aller</div>
<div class="t" style="left:5.91px;top:415.00px;font-size:14.00px;font-weight:700;color:#0c1408;transform:scaleX(1.0000);">1</div>
<div class="t" style="left:29.70px;top:437.00px;font-size:21.00px;color:#383838;transform:scaleX(0.9239);">Amieva</div>
<div class="t" style="left:5.91px;top:441.00px;font-size:14.00px;font-weight:700;color:#0c1408;transform:scaleX(1.0000);">1</div>
<div class="t" style="left:29.70px;top:463.00px;font-size:21.00px;color:#383838;transform:scaleX(0.9182);">Avilés</div>
<div class="t" style="left:5.91px;top:467.00px;font-size:14.00px;font-weight:700;color:#0c1408;transform:scaleX(1.0000);">3</div>
<div class="t" style="left:29.70px;top:489.00px;font-size:21.00px;color:#383838;transform:scaleX(0.9549);">Belmonte de Miranda</div>
<div class="t" style="left:5.91px;top:492.00px;font-size:14.00px;font-weight:700;color:#0c1408;transform:scaleX(1.0000);">2</div>
<div class="t" style="left:29.70px;top:514.00px;font-size:21.00px;color:#383838;transform:scaleX(0.9242);">Bimenes</div>
<div class="t" style="left:5.91px;top:518.00px;font-size:14.00px;font-weight:700;color:#0c1408;transform:scaleX(1.0000);">1</div>
<div class="t" style="left:29.70px;top:540.00px;font-size:21.00px;color:#383838;transform:scaleX(0.9048);">Boal</div>
<div class="t" style="left:5.91px;top:544.00px;font-size:14.00px;font-weight:700;color:#0c1408;transform:scaleX(1.0000);">3</div>
<div class="t" style="left:29.70px;top:566.00px;font-size:21.00px;color:#383838;transform:scaleX(0.9048);">Cabrales</div>
<div class="t" style="left:5.91px;top:569.00px;font-size:14.00px;font-weight:700;color:#0c1408;transform:scaleX(1.0000);">1</div>
<div class="t" style="left:29.70px;top:591.00px;font-size:21.00px;color:#383838;transform:scaleX(0.9040);">Cabranes</div>
<div class="t" style="left:5.91px;top:595.00px;font-size:14.00px;font-weight:700;color:#0c1408;transform:scaleX(1.0000);">2</div>
<div class="t" style="left:29.70px;top:617.00px;font-size:21.00px;color:#383838;transform:scaleX(0.9084);">Candamo</div>
<div class="t" style="left:5.91px;top:621.00px;font-size:14.00px;font-weight:700;color:#0c1408;transform:scaleX(1.0000);">3</div>
<div class="t" style="left:29.70px;top:643.00px;font-size:21.00px;color:#383838;transform:scaleX(0.9056);">Cangas de Narcea</div>
<div class="t" style="left:5.91px;top:646.00px;font-size:14.00px;font-weight:700;color:#0c1408;transform:scaleX(1.0000);">3</div>
<div class="t" style="left:29.70px;top:668.00px;font-size:21.00px;color:#383838;transform:scaleX(0.8898);">Cangas de Onís</div>
<div class="t" style="left:5.91px;top:672.00px;font-size:14.00px;font-weight:700;color:#0c1408;transform:scaleX(1.0000);">1</div>
<div class="t" style="left:29.70px;top:694.00px;font-size:21.00px;color:#383838;transform:scaleX(0.8944);">Caravia</div>
<div class="t" style="left:5.91px;top:698.00px;font-size:14.00px;font-weight:700;color:#0c1408;transform:scaleX(1.0000);">2</div>
<div class="t" style="left:273.40px;top:360.00px;font-size:21.00px;color:#383838;transform:scaleX(0.9366);">Carreño</div>
<div class="t" style="left:249.61px;top:364.00px;font-size:14.00px;font-weight:700;color:#0c1408;transform:scaleX(1.0000);">3</div>
<div class="t" style="left:273.40px;top:386.00px;font-size:21.00px;color:#383838;transform:scaleX(0.8565);">Caso</div>
<div class="t" style="left:249.61px;top:390.00px;font-size:14.00px;font-weight:700;color:#0c1408;transform:scaleX(1.0000);">1</div>
<div class="t" style="left:273.40px;top:412.00px;font-size:21.00px;color:#383838;transform:scaleX(0.9592);">Castrillón</div>
<div class="t" style="left:249.61px;top:415.00px;font-size:14.00px;font-weight:700;color:#0c1408;transform:scaleX(1.0000);">3</div>
<div class="t" style="left:273.40px;top:437.00px;font-size:21.00px;color:#383838;transform:scaleX(0.9490);">Castropol</div>
<div class="t" style="left:249.61px;top:441.00px;font-size:14.00px;font-weight:700;color:#0c1408;transform:scaleX(1.0000);">3</div>
<div class="t" style="left:273.40px;top:463.00px;font-size:21.00px;color:#383838;transform:scaleX(0.8781);">Coaña</div>
<div class="t" style="left:249.61px;top:467.00px;font-size:14.00px;font-weight:700;color:#0c1408;transform:scaleX(1.0000);">3</div>
<div class="t" style="left:273.40px;top:489.00px;font-size:21.00px;color:#383838;transform:scaleX(0.9141);">Colunga</div>
<div class="t" style="left:249.61px;top:492.00px;font-size:14.00px;font-weight:700;color:#0c1408;transform:scaleX(1.0000);">2</div>
<div class="t" style="left:273.40px;top:514.00px;font-size:21.00px;color:#383838;transform:scaleX(0.9562);">Corvera de Asturias</div>
<div class="t" style="left:249.61px;top:518.00px;font-size:14.00px;font-weight:700;color:#0c1408;transform:scaleX(1.0000);">3</div>
<div class="t" style="left:273.40px;top:540.00px;font-size:21.00px;color:#383838;transform:scaleX(0.9572);">Cudillero</div>
<div class="t" style="left:249.61px;top:544.00px;font-size:14.00px;font-weight:700;color:#0c1408;transform:scaleX(1.0000);">3</div>
<div class="t" style="left:273.40px;top:566.00px;font-size:21.00px;color:#383838;transform:scaleX(0.9143);">Degaña</div>
<div class="t" style="left:249.61px;top:569.00px;font-size:14.00px;font-weight:700;color:#0c1408;transform:scaleX(1.0000);">3</div>
<div class="t" style="left:273.40px;top:591.00px;font-size:21.00px;color:#383838;transform:scaleX(0.9157);">El Franco</div>
<div class="t" style="left:249.61px;top:595.00px;font-size:14.00px;font-weight:700;color:#0c1408;transform:scaleX(1.0000);">3</div>
<div class="t" style="left:273.40px;top:617.00px;font-size:21.00px;color:#383838;transform:scaleX(0.9177);">Gijón</div>
<div class="t" style="left:249.61px;top:621.00px;font-size:14.00px;font-weight:700;color:#0c1408;transform:scaleX(1.0000);">3</div>
<div class="t" style="left:273.40px;top:643.00px;font-size:21.00px;color:#383838;transform:scaleX(0.8877);">Gozón</div>
<div class="t" style="left:249.61px;top:646.00px;font-size:14.00px;font-weight:700;color:#0c1408;transform:scaleX(1.0000);">3</div>
<div class="t" style="left:273.40px;top:668.00px;font-size:21.00px;color:#383838;transform:scaleX(0.9181);">Grado</div>
<div class="t" style="left:249.61px;top:672.00px;font-size:14.00px;font-weight:700;color:#0c1408;transform:scaleX(1.0000);">1</div>
<div class="t" style="left:273.40px;top:694.00px;font-size:21.00px;color:#383838;transform:scaleX(0.9257);">Grandas de Salime</div>
<div class="t" style="left:249.61px;top:698.00px;font-size:14.00px;font-weight:700;color:#0c1408;transform:scaleX(1.0000);">3</div>
<div class="t" style="left:507.30px;top:335.00px;font-size:21.00px;color:#383838;transform:scaleX(0.9388);">Ibias</div>
<div class="t" style="left:483.52px;top:338.00px;font-size:14.00px;font-weight:700;color:#0c1408;transform:scaleX(1.0000);">3</div>
<div class="t" style="left:507.30px;top:360.00px;font-size:21.00px;color:#383838;transform:scaleX(0.9763);">Illano</div>
<div class="t" style="left:483.52px;top:364.00px;font-size:14.00px;font-weight:700;color:#0c1408;transform:scaleX(1.0000);">3</div>
<div class="t" style="left:507.30px;top:386.00px;font-size:21.00px;color:#383838;transform:scaleX(0.9524);">Illas</div>
<div class="t" style="left:483.52px;top:390.00px;font-size:14.00px;font-weight:700;color:#0c1408;transform:scaleX(1.0000);">3</div>
<div class="t" style="left:507.30px;top:412.00px;font-size:21.00px;color:#383838;transform:scaleX(0.9459);">Langreo</div>
<div class="t" style="left:483.52px;top:415.00px;font-size:14.00px;font-weight:700;color:#0c1408;transform:scaleX(1.0000);">1</div>
<div class="t" style="left:507.30px;top:437.00px;font-size:21.00px;color:#383838;transform:scaleX(0.9095);">Las Regueras</div>
<div class="t" style="left:483.52px;top:441.00px;font-size:14.00px;font-weight:700;color:#0c1408;transform:scaleX(1.0000);">3</div>
<div class="t" style="left:507.30px;top:463.00px;font-size:21.00px;color:#383838;transform:scaleX(0.9293);">Laviana</div>
<div class="t" style="left:483.52px;top:467.00px;font-size:14.00px;font-weight:700;color:#0c1408;transform:scaleX(1.0000);">1</div>
<div class="t" style="left:507.30px;top:489.00px;font-size:21.00px;color:#383838;transform:scaleX(0.9033);">Lena</div>
<div class="t" style="left:483.52px;top:492.00px;font-size:14.00px;font-weight:700;color:#0c1408;transform:scaleX(1.0000);">1</div>
<div class="t" style="left:507.30px;top:514.00px;font-size:21.00px;color:#383838;transform:scaleX(0.9510);">Llanera</div>
<div class="t" style="left:483.52px;top:518.00px;font-size:14.00px;font-weight:700;color:#0c1408;transform:scaleX(1.0000);">3</div>
<div class="t" style="left:507.30px;top:540.00px;font-size:21.00px;color:#383838;transform:scaleX(0.9265);">Llanes</div>
<div class="t" style="left:483.52px;top:544.00px;font-size:14.00px;font-weight:700;color:#0c1408;transform:scaleX(1.0000);">1</div>
<div class="t" style="left:507.30px;top:566.00px;font-size:21.00px;color:#383838;transform:scaleX(0.9404);">Mieres del Camino</div>
<div class="t" style="left:483.52px;top:569.00px;font-size:14.00px;font-weight:700;color:#0c1408;transform:scaleX(1.0000);">1</div>
<div class="t" style="left:507.30px;top:591.00px;font-size:21.00px;color:#383838;transform:scaleX(0.9384);">Morcín</div>
<div class="t" style="left:483.52px;top:595.00px;font-size:14.00px;font-weight:700;color:#0c1408;transform:scaleX(1.0000);">1</div>
<div class="t" style="left:507.30px;top:617.00px;font-size:21.00px;color:#383838;transform:scaleX(0.9450);">Muros de Nalón</div>
<div class="t" style="left:483.52px;top:621.00px;font-size:14.00px;font-weight:700;color:#0c1408;transform:scaleX(1.0000);">3</div>
<div class="t" style="left:507.30px;top:643.00px;font-size:21.00px;color:#383838;transform:scaleX(0.8832);">Nava</div>
<div class="t" style="left:483.52px;top:646.00px;font-size:14.00px;font-weight:700;color:#0c1408;transform:scaleX(1.0000);">1</div>
<div class="t" style="left:507.30px;top:668.00px;font-size:21.00px;color:#383838;transform:scaleX(0.9170);">Navia</div>
<div class="t" style="left:483.52px;top:672.00px;font-size:14.00px;font-weight:700;color:#0c1408;transform:scaleX(1.0000);">3</div>
<div class="t" style="left:507.30px;top:694.00px;font-size:21.00px;color:#383838;transform:scaleX(0.9379);">Noreña</div>
<div class="t" style="left:483.52px;top:698.00px;font-size:14.00px;font-weight:700;color:#0c1408;transform:scaleX(1.0000);">1</div>
<div class="t" style="left:726.60px;top:258.00px;font-size:21.00px;color:#383838;transform:scaleX(0.8734);">Onís</div>
<div class="t" style="left:702.82px;top:261.00px;font-size:14.00px;font-weight:700;color:#0c1408;transform:scaleX(1.0000);">1</div>
<div class="t" style="left:726.60px;top:283.00px;font-size:21.00px;color:#383838;transform:scaleX(0.9223);">Oviedo</div>
<div class="t" style="left:702.82px;top:287.00px;font-size:14.00px;font-weight:700;color:#0c1408;transform:scaleX(1.0000);">1</div>
<div class="t" style="left:726.60px;top:309.00px;font-size:21.00px;color:#383838;transform:scaleX(0.9297);">Parres</div>
<div class="t" style="left:702.82px;top:313.00px;font-size:14.00px;font-weight:700;color:#0c1408;transform:scaleX(1.0000);">1</div>
<div class="t" style="left:726.60px;top:335.00px;font-size:21.00px;color:#383838;transform:scaleX(0.9650);">Peñamellera Alta</div>
<div class="t" style="left:702.82px;top:338.00px;font-size:14.00px;font-weight:700;color:#0c1408;transform:scaleX(1.0000);">1</div>
<div class="t" style="left:726.60px;top:360.00px;font-size:21.00px;color:#383838;transform:scaleX(0.9433);">Peñamellera Baja</div>
<div class="t" style="left:702.82px;top:364.00px;font-size:14.00px;font-weight:700;color:#0c1408;transform:scaleX(1.0000);">1</div>
<div class="t" style="left:726.60px;top:386.00px;font-size:21.00px;color:#383838;transform:scaleX(0.8736);">Pesoz</div>
<div class="t" style="left:702.82px;top:390.00px;font-size:14.00px;font-weight:700;color:#0c1408;transform:scaleX(1.0000);">3</div>
<div class="t" style="left:726.60px;top:412.00px;font-size:21.00px;color:#383838;transform:scaleX(0.9455);">Piloña</div>
<div class="t" style="left:702.82px;top:415.00px;font-size:14.00px;font-weight:700;color:#0c1408;transform:scaleX(1.0000);">1</div>
<div class="t" style="left:726.60px;top:437.00px;font-size:21.00px;color:#383838;transform:scaleX(0.9096);">Ponga</div>
<div class="t" style="left:702.82px;top:441.00px;font-size:14.00px;font-weight:700;color:#0c1408;transform:scaleX(1.0000);">1</div>
<div class="t" style="left:726.60px;top:463.00px;font-size:21.00px;color:#383838;transform:scaleX(0.9205);">Pravia</div>
<div class="t" style="left:702.82px;top:467.00px;font-size:14.00px;font-weight:700;color:#0c1408;transform:scaleX(1.0000);">3</div>
<div class="t" style="left:726.60px;top:489.00px;font-size:21.00px;color:#383838;transform:scaleX(0.9133);">Proaza</div>
<div class="t" style="left:702.82px;top:492.00px;font-size:14.00px;font-weight:700;color:#0c1408;transform:scaleX(1.0000);">1</div>
<div class="t" style="left:726.60px;top:514.00px;font-size:21.00px;color:#383838;transform:scaleX(0.9297);">Quirós</div>
<div class="t" style="left:702.82px;top:518.00px;font-size:14.00px;font-weight:700;color:#0c1408;transform:scaleX(1.0000);">1</div>
<div class="t" style="left:726.60px;top:540.00px;font-size:21.00px;color:#383838;transform:scaleX(0.9247);">Ribadedeva</div>
<div class="t" style="left:702.82px;top:544.00px;font-size:14.00px;font-weight:700;color:#0c1408;transform:scaleX(1.0000);">1</div>
<div class="t" style="left:726.60px;top:566.00px;font-size:21.00px;color:#383838;transform:scaleX(0.9287);">Ribadesella</div>
<div class="t" style="left:702.82px;top:569.00px;font-size:14.00px;font-weight:700;color:#0c1408;transform:scaleX(1.0000);">1</div>
<div class="t" style="left:726.60px;top:591.00px;font-size:21.00px;color:#383838;transform:scaleX(0.9656);">Ribera de Arriba</div>
<div class="t" style="left:702.82px;top:595.00px;font-size:14.00px;font-weight:700;color:#0c1408;transform:scaleX(1.0000);">1</div>
<div class="t" style="left:726.60px;top:617.00px;font-size:21.00px;color:#383838;transform:scaleX(0.8854);">Riosa</div>
<div class="t" style="left:702.82px;top:621.00px;font-size:14.00px;font-weight:700;color:#0c1408;transform:scaleX(1.0000);">1</div>
<div class="t" style="left:726.60px;top:643.00px;font-size:21.00px;color:#383838;transform:scaleX(0.8743);">Salas</div>
<div class="t" style="left:702.82px;top:646.00px;font-size:14.00px;font-weight:700;color:#0c1408;transform:scaleX(1.0000);">3</div>
<div class="t" style="left:726.60px;top:668.00px;font-size:21.00px;color:#383838;transform:scaleX(0.9481);">S. Martín del Rey Aurelio</div>
<div class="t" style="left:702.82px;top:672.00px;font-size:14.00px;font-weight:700;color:#0c1408;transform:scaleX(1.0000);">1</div>
<div class="t" style="left:726.60px;top:694.00px;font-size:21.00px;color:#383838;transform:scaleX(0.9220);">San Martín de Oscos</div>
<div class="t" style="left:702.82px;top:698.00px;font-size:14.00px;font-weight:700;color:#0c1408;transform:scaleX(1.0000);">3</div>
<div class="t" style="left:996.90px;top:258.00px;font-size:21.00px;color:#383838;transform:scaleX(0.9157);">Santa Eulalia de Oscos</div>
<div class="t" style="left:973.12px;top:261.00px;font-size:14.00px;font-weight:700;color:#0c1408;transform:scaleX(1.0000);">3</div>
<div class="t" style="left:996.90px;top:283.00px;font-size:21.00px;color:#383838;transform:scaleX(0.9377);">San Tirso de Abres</div>
<div class="t" style="left:973.12px;top:287.00px;font-size:14.00px;font-weight:700;color:#0c1408;transform:scaleX(1.0000);">3</div>
<div class="t" style="left:996.90px;top:309.00px;font-size:21.00px;color:#383838;transform:scaleX(0.9554);">Santo Adriano</div>
<div class="t" style="left:973.12px;top:313.00px;font-size:14.00px;font-weight:700;color:#0c1408;transform:scaleX(1.0000);">1</div>
<div class="t" style="left:996.90px;top:335.00px;font-size:21.00px;color:#383838;transform:scaleX(0.9316);">Sariego</div>
<div class="t" style="left:973.12px;top:338.00px;font-size:14.00px;font-weight:700;color:#0c1408;transform:scaleX(1.0000);">1</div>
<div class="t" style="left:996.90px;top:360.00px;font-size:21.00px;color:#383838;transform:scaleX(0.9177);">Siero</div>
<div class="t" style="left:973.12px;top:364.00px;font-size:14.00px;font-weight:700;color:#0c1408;transform:scaleX(1.0000);">1</div>
<div class="t" style="left:996.90px;top:386.00px;font-size:21.00px;color:#383838;transform:scaleX(0.9327);">Sobrescobio</div>
<div class="t" style="left:973.12px;top:390.00px;font-size:14.00px;font-weight:700;color:#0c1408;transform:scaleX(1.0000);">1</div>
<div class="t" style="left:996.90px;top:412.00px;font-size:21.00px;color:#383838;transform:scaleX(0.9355);">Somiedo</div>
<div class="t" style="left:973.12px;top:415.00px;font-size:14.00px;font-weight:700;color:#0c1408;transform:scaleX(1.0000);">2</div>
<div class="t" style="left:996.90px;top:437.00px;font-size:21.00px;color:#383838;transform:scaleX(0.9393);">Soto del Barco</div>
<div class="t" style="left:973.12px;top:441.00px;font-size:14.00px;font-weight:700;color:#0c1408;transform:scaleX(1.0000);">3</div>
<div class="t" style="left:996.90px;top:463.00px;font-size:21.00px;color:#383838;transform:scaleX(0.9253);">Tapia de Casariego</div>
<div class="t" style="left:973.12px;top:467.00px;font-size:14.00px;font-weight:700;color:#0c1408;transform:scaleX(1.0000);">3</div>
<div class="t" style="left:996.90px;top:489.00px;font-size:21.00px;color:#383838;transform:scaleX(0.9626);">Taramundi</div>
<div class="t" style="left:973.12px;top:492.00px;font-size:14.00px;font-weight:700;color:#0c1408;transform:scaleX(1.0000);">3</div>
<div class="t" style="left:996.90px;top:514.00px;font-size:21.00px;color:#383838;transform:scaleX(0.9189);">Teverga</div>
<div class="t" style="left:973.12px;top:518.00px;font-size:14.00px;font-weight:700;color:#0c1408;transform:scaleX(1.0000);">1</div>
<div class="t" style="left:996.90px;top:540.00px;font-size:21.00px;color:#383838;transform:scaleX(0.9311);">Tineo</div>
<div class="t" style="left:973.12px;top:544.00px;font-size:14.00px;font-weight:700;color:#0c1408;transform:scaleX(1.0000);">3</div>
<div class="t" style="left:996.90px;top:566.00px;font-size:21.00px;color:#383838;transform:scaleX(0.9269);">Valdés</div>
<div class="t" style="left:973.12px;top:569.00px;font-size:14.00px;font-weight:700;color:#0c1408;transform:scaleX(1.0000);">3</div>
<div class="t" style="left:996.90px;top:591.00px;font-size:21.00px;color:#383838;transform:scaleX(0.9271);">Vegadeo</div>
<div class="t" style="left:973.12px;top:595.00px;font-size:14.00px;font-weight:700;color:#0c1408;transform:scaleX(1.0000);">3</div>
<div class="t" style="left:996.90px;top:617.00px;font-size:21.00px;color:#383838;transform:scaleX(0.9262);">Villanueva de Oscos</div>
<div class="t" style="left:973.12px;top:621.00px;font-size:14.00px;font-weight:700;color:#0c1408;transform:scaleX(1.0000);">3</div>
<div class="t" style="left:996.90px;top:643.00px;font-size:21.00px;color:#383838;transform:scaleX(0.9504);">Villaviciosa</div>
<div class="t" style="left:973.12px;top:646.00px;font-size:14.00px;font-weight:700;color:#0c1408;transform:scaleX(1.0000);">2</div>
<div class="t" style="left:996.90px;top:668.00px;font-size:21.00px;color:#383838;transform:scaleX(0.9606);">Villayón</div>
<div class="t" style="left:973.12px;top:672.00px;font-size:14.00px;font-weight:700;color:#0c1408;transform:scaleX(1.0000);">3</div>
<div class="t" style="left:996.90px;top:694.00px;font-size:21.00px;color:#383838;transform:scaleX(0.9243);">Yernes y Tameza</div>
<div class="t" style="left:973.12px;top:698.00px;font-size:14.00px;font-weight:700;color:#0c1408;transform:scaleX(1.0000);">1</div>
</div></body></html>
